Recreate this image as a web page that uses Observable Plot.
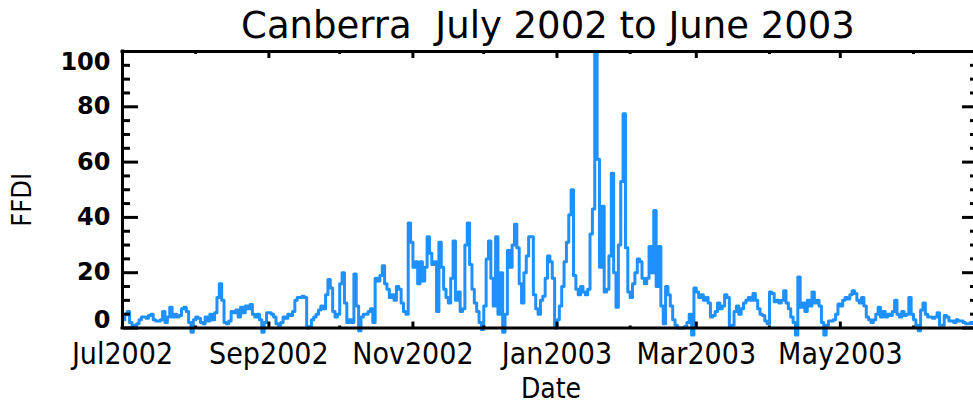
<!DOCTYPE html>
<html><head><meta charset="utf-8">
<script src="https://cdn.jsdelivr.net/npm/d3@7"></script>
<script src="https://cdn.jsdelivr.net/npm/@observablehq/plot@0.6"></script>
<style>html,body{margin:0;padding:0;background:#fff;overflow:hidden}</style>
</head><body><div id="chart"></div>
<script>
// Daily FFDI, Canberra, 1 July 2002 onward
const startDate = "2002-07-01";
const jul2002 = [3, 5, 6, 2, 1, 1, 1.5, 3, 4, 4, 3.5, 4.5, 5, 3, 2.5, 2.5, 3, 6, 2, 4, 7.5, 4, 5, 4, 4.5, 7, 7.5, 6, 2, -1.5, 3];
const aug2002 = [4, 3.5, 2, 1.5, 4, 2.5, 5, 3, 5.5, 11, 16, 10, 2, 1.5, 2.5, 6, 5.5, 6.5, 4, 7.5, 5.5, 8, 7, 8.5, 5, 4, 5, 3, -1.5, 2, 5.5];
const sep2002 = [5.5, 5, 4, 1.5, 1, 2, 4, 3.5, 5, 4.5, 6, 10, 11, 11, 11.5, 11, 0, 0.5, 3, 4, 5, 6.5, 8, 7, 12, 17.5, 14.5, 6, 4, 5];
const oct2002 = [16, 20, 9, 2, 3, 2, 19.5, 8, -1, 4, 5, 5, 6, 7, 2, 18, 17, 19, 22.5, 16, 14, 11, 12, 10, 15, 14, 9, 6, 5, 38, 31];
const nov2002 = [22, 24, 16, 24, 17, 22, 33, 27, 23, 24, 6, 31, 22, 14, 11, 9, 18, 31.5, 10, 13, 6, 7, 30, 38, 23, 14, 9, 6, 2, -0.5];
const dec2002 = [8, 25, 31.5, 18, 8, 33, 5, 20, -1.5, 5, 28, 22, 30, 37.5, 29, 16, 9, 20, 26, 33, 33, 12, 7, 5, 10, 11.5, 18, 26, 24, 18, 0];
const jan2003 = [3, 8, 15, 24, 31, 41, 50, 19, 14, 12, 15, 13, 12, 14, 34, 43, 100, 61, 22, 44, 13, 14, 26, 56, 20, 7.5, 30, 53, 77.5, 29, 13];
const feb2003 = [11, 16, 20, 25, 24, 18, 16, 18, 29.5, 20, 42.5, 15, 29.5, 8, 1.5, 15, 12, 8, 3, 1, 0, 0, 0, 0.5, 2, 5, -2.5, 14.5];
const mar2003 = [13, 11, 12, 10, 11, 9, 4, 4.5, 6, 9, 7, 8, 12, 11, 0.5, 1, 6, 8, 5, 7, 9, 10, 11, 10, 12.5, 10, 7, 5, 4.5, 2.5, 1.5];
const apr2003 = [13, 12.5, 9.5, 10, 9, 10, 13.5, 9, 7, 4, 2, -2.5, 18.4, 7.5, 9, 6, 10, 8, 13, 9, 10, 8, 2, -2.5, 1, 2.5, 2.5, 3, 5, 8.7];
const may2003 = [8, 10, 11, 10.5, 12, 13.5, 12.5, 10, 9, 11, 8, 4, 3, 2, 3, 5, 7.5, 4, 6, 4, 5, 4.5, 6, 10, 5, 4, 6, 4.5, 5, 11, 5];
const jun2003 = [3, 1, -1, 6.5, 9, 5, 4, 4, 3.5, 4, 5.5, 1, 1, 4.5, 4, 2.5, 2.5, 2, 3, 2.5, 2.5, 2, 1.5, 1.5, 2, 1.5];

const majorTickDates = ["2002-07-01", "2002-09-01", "2002-11-01", "2003-01-01", "2003-03-01", "2003-05-01"];
const tickLabels = ["Jul2002", "Sep2002", "Nov2002", "Jan2003", "Mar2003", "May2003"];
const minorTickDates = ["2002-08-01", "2002-10-01", "2002-12-01", "2003-02-01", "2003-04-01", "2003-06-01"];
const yLabelTicks = [20, 40, 60, 80];
const yMajorTicks = [0, 20, 40, 60, 80, 100];
const yMinorTicks = [5, 10, 15, 25, 30, 35, 45, 50, 55, 65, 70, 75, 85, 90, 95];
const titleText = "Canberra  July 2002 to June 2003";
const xTitle = "Date";
const yTitle = "FFDI";

const DAY = 864e5;
const t0 = Date.parse(startDate);
const ffdi = [...jul2002, ...aug2002, ...sep2002, ...oct2002, ...nov2002, ...dec2002,
              ...jan2003, ...feb2003, ...mar2003, ...apr2003, ...may2003, ...jun2003];
const data = ffdi.map((v, i) => ({date: new Date(t0 + i * DAY), ffdi: v}));
const majors = majorTickDates.map(d => new Date(d));
const minors = minorTickDates.map(d => new Date(d));
const labelOf = new Map(majors.map((d, i) => [+d, tickLabels[i]]));

const W = 973, H = 407, ML = 122, MR = 0, MT = 51, MB = 79.5;
const FW = W - ML - MR, FH = H - MT - MB;
const BLUE = "#1E90FF";
const condensed = "'DejaVu Sans Condensed', 'DejaVu Sans', sans-serif";
const regular = "'DejaVu Sans', sans-serif";

const chart = Plot.plot({
  width: W, height: H,
  marginLeft: ML, marginRight: MR, marginTop: MT, marginBottom: MB,
  style: {background: "#fff", color: "#000", overflow: "visible"},
  x: {type: "utc", domain: [new Date(t0), new Date(t0 + 360.4 * DAY)]},
  y: {domain: [0, 100]},
  marks: [
    Plot.lineY(data, {x: "date", y: "ffdi", curve: "step-after", stroke: BLUE, strokeWidth: 3}),
    // frame
    Plot.ruleY([0, 100], {stroke: "#000", strokeWidth: 3, strokeLinecap: "square"}),
    Plot.ruleX([new Date(t0)], {stroke: "#000", strokeWidth: 3, strokeLinecap: "square"}),
    // left ticks (pointing inward)
    Plot.axisY({ticks: yMajorTicks, anchor: "right", tickSize: 15, dx: -FW, fill: "none", strokeWidth: 3, label: null}),
    Plot.axisY({ticks: yMinorTicks, anchor: "right", tickSize: 7, dx: -FW, fill: "none", strokeWidth: 3, label: null}),
    // right ticks (pointing inward)
    Plot.axisY({ticks: yMajorTicks, anchor: "left", tickSize: 11, dx: FW, fill: "none", strokeWidth: 3, label: null}),
    Plot.axisY({ticks: yMinorTicks, anchor: "left", tickSize: 3, dx: FW, fill: "none", strokeWidth: 3, label: null}),
    // bottom ticks (pointing up)
    Plot.axisX({ticks: majors, anchor: "top", tickSize: 7, dy: FH, fill: "none", strokeWidth: 3, label: null}),
    Plot.axisX({ticks: minors, anchor: "top", tickSize: 3, dy: FH, fill: "none", strokeWidth: 3, label: null}),
    // top ticks (pointing down)
    Plot.axisX({ticks: majors, anchor: "bottom", tickSize: 7, dy: -FH, fill: "none", strokeWidth: 3, label: null}),
    Plot.axisX({ticks: minors, anchor: "bottom", tickSize: 3, dy: -FH, fill: "none", strokeWidth: 3, label: null}),
    // y tick labels
    Plot.axisY({ticks: yLabelTicks, anchor: "left", tickSize: 0, tickPadding: 12, stroke: "none", label: null,
      fontSize: 24, fontWeight: "bold", fontFamily: regular}),
    Plot.axisY({ticks: [100], anchor: "left", tickSize: 0, tickPadding: 12, dy: 10.5, stroke: "none", label: null,
      fontSize: 24, fontWeight: "bold", fontFamily: regular}),
    Plot.axisY({ticks: [0], anchor: "left", tickSize: 0, tickPadding: 12, dy: -7.5, stroke: "none", label: null,
      fontSize: 24, fontWeight: "bold", fontFamily: regular}),
    // x tick labels
    Plot.axisX({ticks: majors, anchor: "bottom", tickSize: 0, tickPadding: 15, stroke: "none", label: null,
      tickFormat: d => labelOf.get(+d), fontSize: 30, fontFamily: condensed}),
    // titles
    Plot.text([titleText], {frameAnchor: "top", lineAnchor: "middle", dy: -25, fontSize: 37, fontFamily: regular, fill: "#000"}),
    Plot.text([xTitle], {frameAnchor: "bottom", lineAnchor: "middle", dy: 61, dx: 3, fontSize: 28, fontFamily: condensed, fill: "#000"}),
    Plot.text([yTitle], {frameAnchor: "left", textAnchor: "middle", lineAnchor: "middle", dx: -100, dy: 10, rotate: -90, fontSize: 27, fontFamily: condensed, fill: "#000"})
  ]
});
document.getElementById("chart").appendChild(chart);
</script>
</body></html>
